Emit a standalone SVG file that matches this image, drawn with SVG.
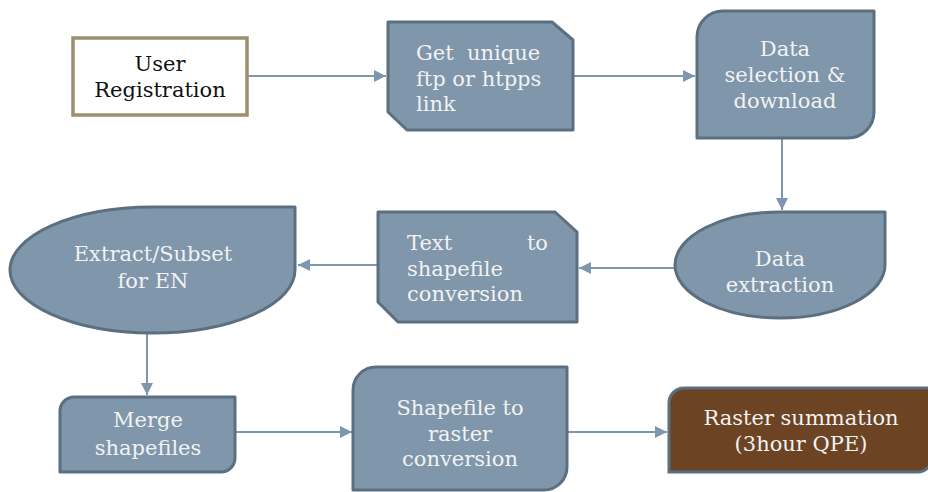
<svg xmlns="http://www.w3.org/2000/svg" width="928" height="492" viewBox="0 0 928 492">
  <style>
    .node { fill: #7f96ab; stroke: #5b6f81; stroke-width: 3; stroke-linejoin: round; }
    .start { fill: #ffffff; stroke: #9c9070; stroke-width: 3.5; }
    .final { fill: #6c4424; stroke: #5b6f81; stroke-width: 3; }
    .lbl { font-family: "DejaVu Serif", "Liberation Serif", serif; font-size: 21px; fill: #f2f2f2; text-anchor: middle; }
    .dark { fill: #111111; }
    .left { text-anchor: start; }
    .right { text-anchor: end; }
    .edge { stroke: #7d97ae; stroke-width: 2; fill: none; marker-end: url(#head); }
  </style>
  <defs>
    <marker id="head" viewBox="0 0 10 10" refX="10" refY="5" markerWidth="6" markerHeight="6" markerUnits="strokeWidth" orient="auto">
      <path d="M0,0 L10,5 L0,10 Z" fill="#7d97ae"/>
    </marker>
  </defs>

  <g id="connectors">
    <line class="edge" x1="247" y1="76" x2="386" y2="76"/>
    <line class="edge" x1="573" y1="76" x2="695" y2="76"/>
    <line class="edge" x1="782" y1="139" x2="782" y2="210"/>
    <line class="edge" x1="675" y1="268" x2="579" y2="268"/>
    <line class="edge" x1="378" y1="265" x2="298" y2="265"/>
    <line class="edge" x1="147" y1="333" x2="147" y2="395"/>
    <line class="edge" x1="236" y1="432" x2="352" y2="432"/>
    <line class="edge" x1="568" y1="432" x2="667" y2="432"/>
  </g>

  <g id="user-registration">
    <rect class="start" x="73" y="38" width="174" height="77"/>
    <text class="lbl dark" x="160" y="71">User</text>
    <text class="lbl dark" x="160" y="97">Registration</text>
  </g>

  <g id="get-link">
    <path class="node" d="M388,22 H552 L573,40 V130 H407 L388,112 Z"/>
    <text class="lbl left" x="416" y="60" xml:space="preserve">Get  unique</text>
    <text class="lbl left" x="416" y="86">ftp or htpps</text>
    <text class="lbl left" x="416" y="111">link</text>
  </g>

  <g id="data-selection">
    <path class="node" d="M723,11 H874 V112 A26,26 0 0 1 848,138 H697 V37 A26,26 0 0 1 723,11 Z"/>
    <text class="lbl" x="785" y="56">Data</text>
    <text class="lbl" x="785" y="82">selection &amp;</text>
    <text class="lbl" x="785" y="108">download</text>
  </g>

  <g id="data-extraction">
    <path class="node" d="M780,212 H885 V265 A105,53 0 0 1 780,318 A105,53 0 0 1 675,265 A105,53 0 0 1 780,212 Z"/>
    <text class="lbl" x="780" y="266">Data</text>
    <text class="lbl" x="780" y="292">extraction</text>
  </g>

  <g id="text-to-shapefile">
    <path class="node" d="M378,212 H555 L577,232 V322 H398 L378,302 Z"/>
    <text class="lbl left" x="407" y="250">Text</text>
    <text class="lbl right" x="548" y="250">to</text>
    <text class="lbl left" x="407" y="276">shapefile</text>
    <text class="lbl left" x="407" y="301">conversion</text>
  </g>

  <g id="extract-subset">
    <path class="node" d="M152,207 H295 V270 A143,63 0 0 1 152,333 A143,63 0 0 1 10,270 A143,63 0 0 1 152,207 Z"/>
    <text class="lbl" x="153" y="261">Extract/Subset</text>
    <text class="lbl" x="153" y="288">for EN</text>
  </g>

  <g id="merge-shapefiles">
    <path class="node" d="M74,397 H235 V458 A14,14 0 0 1 221,472 H60 V411 A14,14 0 0 1 74,397 Z"/>
    <text class="lbl" x="148" y="427">Merge</text>
    <text class="lbl" x="148" y="455">shapefiles</text>
  </g>

  <g id="shapefile-to-raster">
    <path class="node" d="M376,367 H567 V467 A23,23 0 0 1 544,490 H353 V390 A23,23 0 0 1 376,367 Z"/>
    <text class="lbl" x="460" y="415">Shapefile to</text>
    <text class="lbl" x="460" y="441">raster</text>
    <text class="lbl" x="460" y="466">conversion</text>
  </g>

  <g id="raster-summation">
    <path class="final" d="M684,388 H932 V458 A14,14 0 0 1 918,472 H669 V403 A15,15 0 0 1 684,388 Z"/>
    <text class="lbl" x="801" y="425">Raster summation</text>
    <text class="lbl" x="801" y="451">(3hour QPE)</text>
  </g>
</svg>
